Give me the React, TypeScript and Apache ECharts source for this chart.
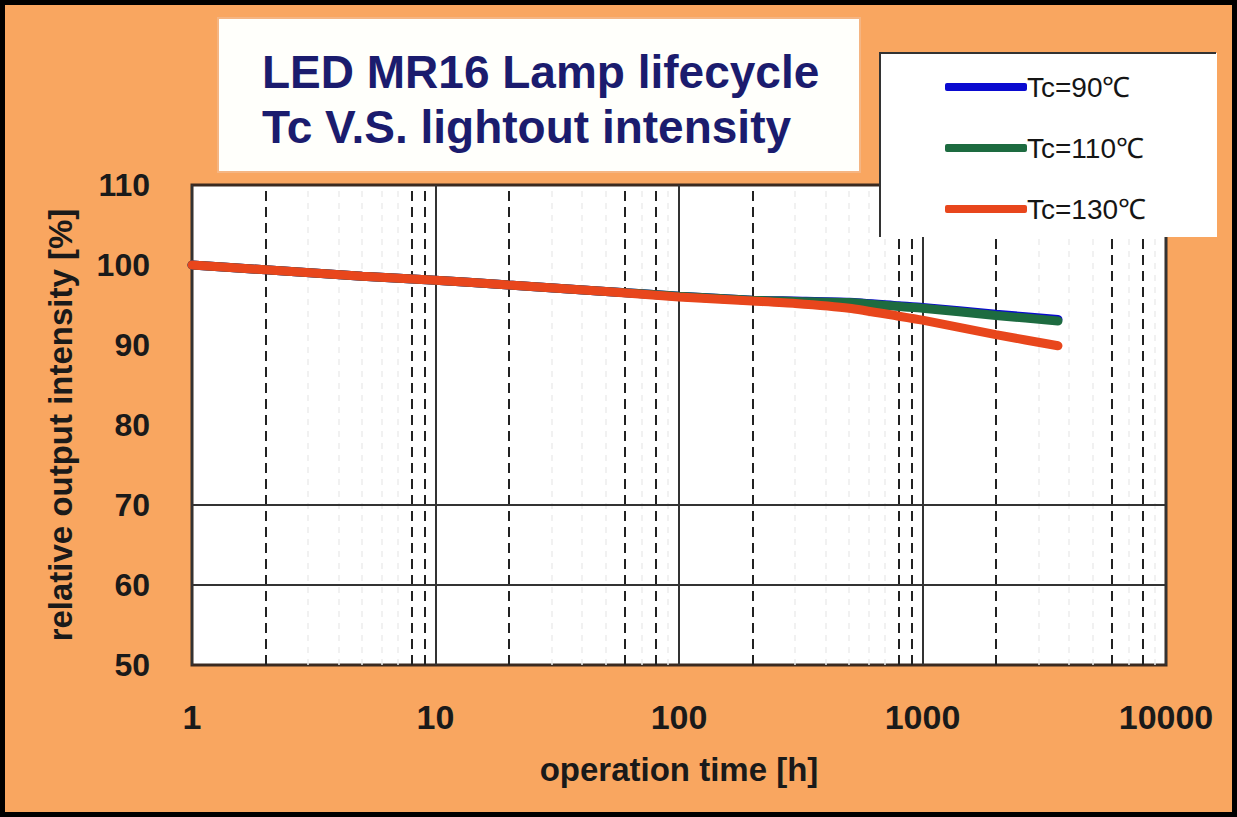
import React, { useEffect, useRef } from "react";
import * as echarts from "echarts";

const titleLines = ["LED MR16 Lamp lifecycle", "Tc V.S. lightout intensity"];
const seriesNames = ["Tc=90℃", "Tc=110℃", "Tc=130℃"];
const seriesColors = ["#0a0ad0", "#1d6b40", "#e8461c"];

const hours = [1, 2, 5, 10, 20, 50, 100, 200, 300, 500, 800, 1000, 2000, 3600];
const tc90 = [100, 99.4, 98.6, 98.1, 97.5, 96.7, 96.1, 95.6, 95.5, 95.35, 94.9, 94.7, 93.85, 93.2];
const tc110 = [100, 99.4, 98.6, 98.1, 97.5, 96.7, 96.1, 95.6, 95.45, 95.3, 94.8, 94.6, 93.7, 93.0];
const tc130 = [100, 99.4, 98.6, 98.1, 97.5, 96.7, 96.0, 95.5, 95.2, 94.6, 93.6, 93.1, 91.3, 89.9];

const darkDashedX = [2, 8, 9, 20, 60, 80, 200, 800, 900, 2000, 6000, 8000];
const faintDashedX = [3, 4, 5, 6, 7, 30, 40, 50, 70, 90, 300, 400, 500, 600, 700, 3000, 4000, 5000, 7000, 9000];
const solidY = [60, 70];

const yMin = 50;
const yMax = 110;
const yStep = 10;

const FONT = "'Liberation Sans', Arial, Helvetica, sans-serif";

export default function App() {
  const ref = useRef<HTMLDivElement>(null);

  useEffect(() => {
    if (!ref.current) return;
    const chart = echarts.init(ref.current, null, { renderer: "svg" });
    const values = [tc90, tc110, tc130];
    const dataSeries = seriesNames.map((name, i) => ({
      name,
      type: "line",
      smooth: 0.2,
      symbol: "none",
      z: 5 + i,
      lineStyle: { color: seriesColors[i], width: 9, cap: "round" },
      itemStyle: { color: seriesColors[i] },
      data: hours.map((h, j) => [h, values[i][j]]),
    }));

    const option = {
      animation: false,
      backgroundColor: "#f9a660",
      textStyle: { fontFamily: FONT },
      title: {
        text: titleLines.join("\n"),
        left: 262,
        top: 44,
        padding: 0,
        z: 120,
        textStyle: {
          fontFamily: FONT,
          fontSize: 46,
          fontWeight: "bold",
          color: "#1b1c6e",
          lineHeight: 55,
        },
      },
      legend: {
        orient: "vertical",
        left: 940,
        top: 66,
        itemWidth: 82,
        itemHeight: 8,
        itemGap: 29,
        icon: "roundRect",
        z: 120,
        data: seriesNames,
        textStyle: {
          fontFamily: FONT,
          fontSize: 28,
          color: "#151515",
          lineHeight: 32,
          padding: [0, 0, 0, -5],
        },
      },
      graphic: [
        {
          type: "rect",
          z: 100,
          silent: true,
          shape: { x: 218, y: 18, width: 642, height: 154 },
          style: { fill: "#fffffb", stroke: "#f5b582", lineWidth: 2 },
        },
        {
          type: "rect",
          z: 100,
          silent: true,
          shape: { x: 880, y: 53, width: 337, height: 184 },
          style: { fill: "#ffffff" },
        },
        {
          type: "polyline",
          z: 101,
          silent: true,
          shape: { points: [[880, 237], [880, 53], [1216, 53]] },
          style: { stroke: "#333333", lineWidth: 2, fill: "none" },
        },
        {
          type: "rect",
          z: 130,
          silent: true,
          shape: { x: 2.5, y: 2.5, width: 1232, height: 812 },
          style: { fill: "none", stroke: "#000000", lineWidth: 5 },
        },
      ],
      grid: {
        left: 192,
        top: 185,
        width: 974,
        height: 480,
        show: true,
        backgroundColor: "#ffffff",
        borderColor: "#3b2a20",
        borderWidth: 3,
        containLabel: false,
      },
      xAxis: {
        type: "log",
        logBase: 10,
        min: 1,
        max: 10000,
        name: "operation time [h]",
        nameLocation: "middle",
        nameGap: 88,
        nameTextStyle: { fontFamily: FONT, fontSize: 33, fontWeight: "bold", color: "#1a1a1a" },
        axisLine: { show: false },
        axisTick: { show: false },
        axisLabel: {
          fontFamily: FONT,
          fontSize: 34,
          fontWeight: "bold",
          color: "#1a1a1a",
          margin: 35,
          formatter: (v: number) => String(Math.round(v)),
        },
        splitLine: { show: true, lineStyle: { color: "#333333", width: 2 } },
      },
      yAxis: {
        type: "value",
        min: yMin,
        max: yMax,
        interval: yStep,
        name: "relative output intensity [%]",
        nameLocation: "middle",
        nameGap: 115,
        nameTextStyle: { fontFamily: FONT, fontSize: 33, fontWeight: "bold", color: "#1a1a1a" },
        axisLine: { show: false },
        axisTick: { show: false },
        axisLabel: { fontFamily: FONT, fontSize: 32, fontWeight: "bold", color: "#1a1a1a", margin: 42 },
        splitLine: { show: false },
      },
      series: [
        {
          name: "gridFaint",
          type: "line",
          data: [],
          z: 1,
          silent: true,
          markLine: {
            silent: true,
            symbol: ["none", "none"],
            label: { show: false },
            lineStyle: { color: "#ededed", width: 1.5, type: [6, 6] },
            data: faintDashedX.map((v) => ({ xAxis: v })),
          },
        },
        {
          name: "gridDashed",
          type: "line",
          data: [],
          z: 2,
          silent: true,
          markLine: {
            silent: true,
            symbol: ["none", "none"],
            label: { show: false },
            lineStyle: { color: "#222222", width: 2, type: [10, 6] },
            data: darkDashedX.map((v) => ({ xAxis: v })),
          },
        },
        {
          name: "gridSolid",
          type: "line",
          data: [],
          z: 2,
          silent: true,
          markLine: {
            silent: true,
            symbol: ["none", "none"],
            label: { show: false },
            lineStyle: { color: "#333333", width: 2, type: "solid" },
            data: solidY.map((v) => ({ yAxis: v })),
          },
        },
        ...dataSeries,
      ],
    };

    chart.setOption(option as any);
    return () => chart.dispose();
  }, []);

  return (
    <div
      ref={ref}
      style={{ position: "fixed", left: 0, top: 0, width: 1237, height: 817 }}
    />
  );
}
